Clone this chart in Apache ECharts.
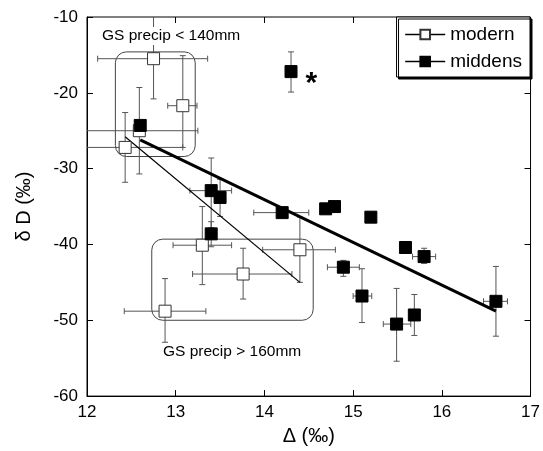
<!DOCTYPE html>
<html>
<head>
<meta charset="utf-8">
<script src="https://cdn.jsdelivr.net/npm/echarts@6/dist/echarts.min.js"></script>
<style>
  html, body { margin: 0; padding: 0; background: #fff; }
  #main { width: 543px; height: 451px; }
</style>
</head>
<body>
<div id="main"></div>
<script>
var xTicks = [12, 13, 14, 15, 16, 17];
var yTicks = [-60, -50, -40, -30, -20, -10];

// modern: [delta, dD]
var modern = [
    [12.75, -15.5], [13.08, -21.7], [12.59, -25.0], [12.43, -27.2],
    [13.30, -40.1], [13.76, -43.9], [14.40, -40.7], [12.88, -48.8]
];
// [xLow, xHigh, yLow, yHigh]
var modernErr = [
    [12.12, 13.36, -20.8, -9.0],
    [12.91, 13.24, -27.2, -15.1],
    [11.93, 13.25, -30.7, -19.3],
    [11.78, 13.08, -31.8, -22.6],
    [12.97, 13.63, -45.3, -35.0],
    [13.19, 14.31, -47.2, -40.5],
    [13.98, 14.80, -45.0, -36.4],
    [12.42, 13.34, -52.9, -44.5]
];

var middens = [
    [12.60, -24.3], [14.30, -17.2], [13.40, -32.9], [13.50, -33.8],
    [13.40, -38.6], [14.20, -35.8], [14.69, -35.3], [14.79, -35.0],
    [15.20, -36.4], [15.59, -40.4], [15.80, -41.6], [14.89, -43.0],
    [15.10, -46.8], [15.49, -50.5], [15.69, -49.3], [16.61, -47.5]
];
var middensErr = [
    null,
    [null, null, -19.9, -14.6],
    [13.16, 13.63, -37.8, -28.6],
    [null, null, -36.3, -31.4],
    [null, null, -40.3, -37.0],
    [13.88, 14.50, null, null],
    null, null, null, null,
    [15.67, 15.93, -42.5, -40.5],
    [14.71, 15.07, -44.2, -42.1],
    [15.00, 15.21, -50.3, -43.2],
    [15.34, 15.65, -55.4, -45.8],
    [15.65, 15.73, -52.0, -46.6],
    [16.47, 16.74, -52.1, -42.9]
];

var modernFit = [[12.43, -25.8], [14.40, -45.0]];
var middensFit = [[12.60, -26.2], [16.61, -48.8]];

// grouping boxes: [xLeft, yTop, xRight, yBottom]
var boxes = [[12.32, -14.6, 13.22, -28.4], [12.73, -39.3, 14.55, -50.0]];
var boxLabels = ['GS precip < 140mm', 'GS precip > 160mm'];

var font = '"Liberation Sans", Arial, Helvetica, sans-serif';

function errRows(pts, errs) {
    var rows = [];
    pts.forEach(function (p, i) {
        var e = errs[i];
        if (!e) return;
        rows.push([p[0], p[1], e[0], e[1], e[2], e[3]]);
    });
    return rows;
}

function renderErr(params, api) {
    var x = api.value(0), y = api.value(1);
    var xl = api.value(2), xh = api.value(3), yl = api.value(4), yh = api.value(5);
    var kids = [];
    var st = { stroke: '#555', lineWidth: 1 };
    var cap = 3;
    if (!isNaN(xl) && xl !== null && !isNaN(xh)) {
        var a = api.coord([xl, y]), b = api.coord([xh, y]);
        kids.push({ type: 'line', shape: { x1: a[0], y1: a[1], x2: b[0], y2: b[1] }, style: st });
        kids.push({ type: 'line', shape: { x1: a[0], y1: a[1] - cap, x2: a[0], y2: a[1] + cap }, style: st });
        kids.push({ type: 'line', shape: { x1: b[0], y1: b[1] - cap, x2: b[0], y2: b[1] + cap }, style: st });
    }
    if (!isNaN(yl) && yl !== null && !isNaN(yh)) {
        var c = api.coord([x, yl]), d = api.coord([x, yh]);
        kids.push({ type: 'line', shape: { x1: c[0], y1: c[1], x2: d[0], y2: d[1] }, style: st });
        kids.push({ type: 'line', shape: { x1: c[0] - cap, y1: c[1], x2: c[0] + cap, y2: c[1] }, style: st });
        kids.push({ type: 'line', shape: { x1: d[0] - cap, y1: d[1], x2: d[0] + cap, y2: d[1] }, style: st });
    }
    return { type: 'group', children: kids };
}

var middensData = middens.map(function (p, i) {
    if (i === 1) {
        return {
            value: p,
            label: {
                show: true, formatter: '*', position: 'right', distance: 8,
                offset: [0, 12], fontSize: 30, fontWeight: 'bold', color: '#000', fontFamily: font
            }
        };
    }
    return p;
});

var myChart = echarts.init(document.getElementById('main'));
var option = {
    backgroundColor: '#fff',
    animation: false,
    textStyle: { fontFamily: font },
    grid: { left: 87, top: 17, right: 12, bottom: 54, show: true, borderColor: '#000', borderWidth: 1 },
    legend: {
        orient: 'vertical', right: 13, top: 17,
        data: ['modern', 'middens'],
        itemWidth: 40, itemHeight: 12, itemGap: 8,
        padding: [8, 8, 6, 8],
        borderColor: '#000', borderWidth: 1, backgroundColor: '#fff',
        shadowColor: '#000', shadowBlur: 0, shadowOffsetX: 2, shadowOffsetY: 2,
        lineStyle: { opacity: 1, width: 1.3, color: '#000' },
        textStyle: { fontSize: 19, color: '#000', fontFamily: font }
    },
    xAxis: [{
        type: 'value', min: 12, max: 17, interval: 1,
        name: 'Δ (‰)', nameLocation: 'middle', nameGap: 29,
        nameTextStyle: { fontSize: 20, color: '#000' },
        axisLine: { lineStyle: { color: '#000' } },
        axisTick: { inside: true, length: 6, lineStyle: { color: '#000' } },
        axisLabel: { fontSize: 17, color: '#000', margin: 8 },
        splitLine: { show: false }
    }, {
        type: 'value', min: 12, max: 17, interval: 1, position: 'top',
        axisLine: { show: false },
        axisTick: { inside: true, length: 6, lineStyle: { color: '#000' } },
        axisLabel: { show: false }, splitLine: { show: false }
    }],
    yAxis: [{
        type: 'value', min: -60, max: -10, interval: 10,
        name: 'δ D (‰)', nameLocation: 'middle', nameGap: 53,
        nameTextStyle: { fontSize: 20, color: '#000' },
        axisLine: { lineStyle: { color: '#000' } },
        axisTick: { inside: true, length: 6, lineStyle: { color: '#000' } },
        axisLabel: { fontSize: 17, color: '#000', margin: 9 },
        splitLine: { show: false }
    }, {
        type: 'value', min: -60, max: -10, interval: 10, position: 'right',
        axisLine: { show: false },
        axisTick: { inside: true, length: 6, lineStyle: { color: '#000' } },
        axisLabel: { show: false }, splitLine: { show: false }
    }],
    graphic: [
        { type: 'text', left: 102, top: 27, z: 10,
          style: { text: boxLabels[0], font: '15.5px ' + font, fill: '#000', backgroundColor: '#fff', padding: [1, 0] } },
        { type: 'text', left: 163, top: 344, z: 10,
          style: { text: boxLabels[1], font: '15.5px ' + font, fill: '#000' } }
    ],
    series: [
        {
            type: 'custom', silent: true, z: 1,
            data: boxes,
            renderItem: function (params, api) {
                var p1 = api.coord([api.value(0), api.value(1)]);
                var p2 = api.coord([api.value(2), api.value(3)]);
                return {
                    type: 'rect',
                    shape: { x: p1[0], y: p1[1], width: p2[0] - p1[0], height: p2[1] - p1[1], r: 11 },
                    style: { fill: 'none', stroke: '#444', lineWidth: 1 }
                };
            }
        },
        { type: 'custom', silent: true, clip: true, z: 2, data: errRows(modern, modernErr), renderItem: renderErr },
        { type: 'custom', silent: true, clip: true, z: 2, data: errRows(middens, middensErr), renderItem: renderErr },
        {
            type: 'line', data: modernFit, symbol: 'none', z: 3,
            lineStyle: { color: '#000', width: 1.2 }
        },
        {
            type: 'line', data: middensFit, symbol: 'none', z: 3,
            lineStyle: { color: '#000', width: 3 }
        },
        {
            name: 'modern', type: 'line', data: modern, z: 4,
            symbol: 'rect', symbolSize: 12,
            itemStyle: { color: '#fff', borderColor: '#333', borderWidth: 1 },
            lineStyle: { opacity: 0 }
        },
        {
            name: 'middens', type: 'line', data: middensData, z: 4,
            symbol: 'rect', symbolSize: 12,
            itemStyle: { color: '#000', borderColor: '#000', borderWidth: 1 },
            lineStyle: { opacity: 0 }
        }
    ]
};
myChart.setOption(option);
window.onresize = myChart.resize;
</script>
</body>
</html>
